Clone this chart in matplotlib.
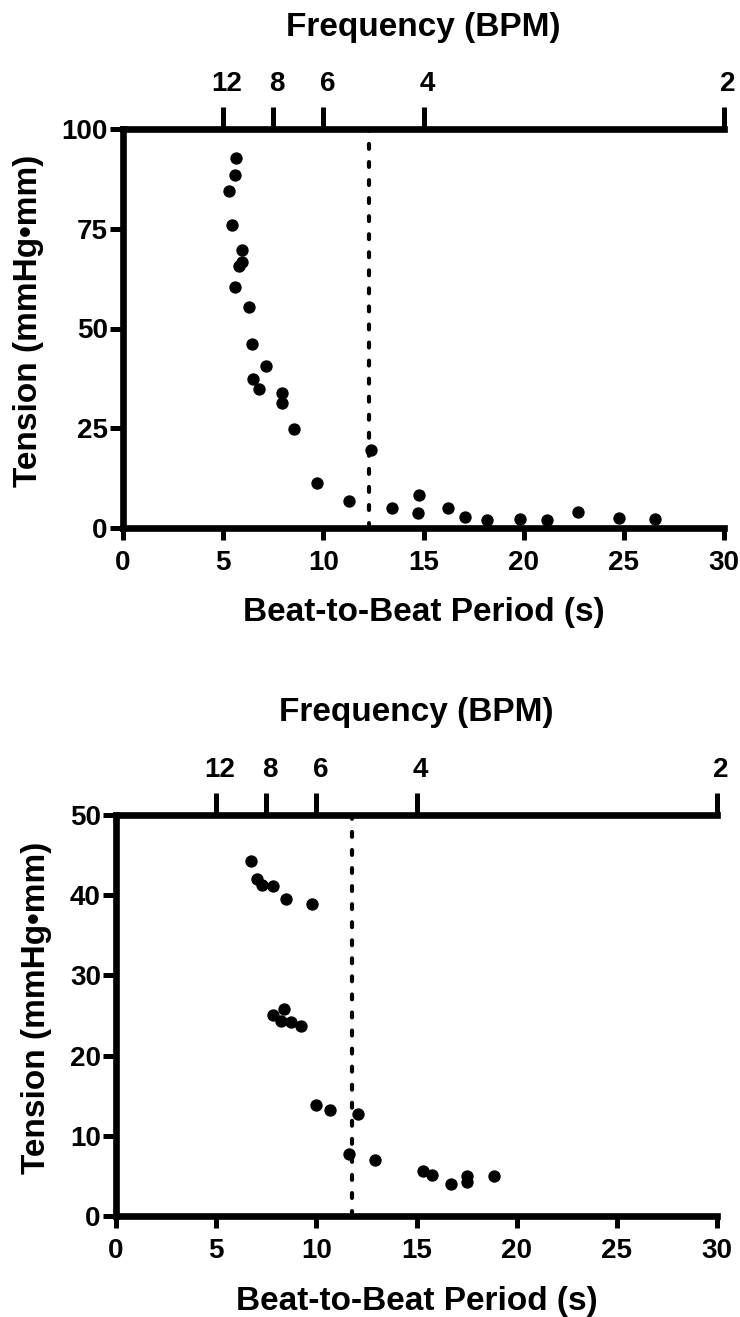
import matplotlib
matplotlib.use("Agg")
import matplotlib.pyplot as plt
import matplotlib.transforms as mtransforms

plt.rcParams['font.family'] = ['Liberation Sans', 'DejaVu Sans']
plt.rcParams['font.weight'] = 'bold'
plt.rcParams['lines.scale_dashes'] = False

# ---------------- data ----------------
# Top panel
top_period = [5.64, 5.58, 5.29, 5.46, 5.96, 5.79, 5.94, 5.59, 6.28, 6.42,
              7.14, 6.51, 6.81, 7.92, 7.94, 8.55, 12.38, 9.70, 11.30, 13.45,
              14.80, 14.73, 16.20, 17.07, 18.16, 19.82, 21.17, 22.70, 24.75, 26.56]
top_tension = [92.7, 88.4, 84.5, 76.0, 69.7, 65.6, 66.6, 60.3, 55.3, 46.2,
               40.5, 37.3, 34.8, 33.8, 31.3, 24.9, 19.5, 11.4, 6.8, 5.0,
               8.3, 3.7, 4.9, 2.75, 1.9, 2.3, 2.1, 4.0, 2.5, 2.25]
top_threshold = 12.3

# Bottom panel
bot_period = [6.74, 7.02, 7.27, 7.82, 8.50, 9.79, 8.39, 7.85, 8.24, 8.72,
              9.22, 9.98, 10.68, 12.06, 11.65, 12.94, 15.31, 15.76, 16.71,
              17.54, 17.54, 18.87]
bot_tension = [44.3, 42.0, 41.3, 41.1, 39.5, 38.9, 25.8, 25.1, 24.3, 24.2,
               23.7, 13.9, 13.2, 12.7, 7.7, 7.0, 5.6, 5.1, 3.95,
               5.0, 4.2, 5.0]
bot_threshold = 11.8

period_ticks = [0, 5, 10, 15, 20, 25, 30]
bpm_ticks = [12, 8, 6, 4, 2]
top_yticks = [0, 25, 50, 75, 100]
bot_yticks = [0, 10, 20, 30, 40, 50]

xlabel = "Beat-to-Beat Period (s)"
toplabel = "Frequency (BPM)"
ylabel = "Tension (mmHg\u2022mm)"

# ---------------- figure ----------------
fig = plt.figure(figsize=(7.40, 13.17), dpi=100)

SPINE_W = 4.8
TICK_W = 3.6
TICK_FS = 20
LABEL_FS = 24


def panel(rect, xs, ys, ymax, yticks, thr, ylab_x):
    ax = fig.add_axes(rect)
    ax.set_xlim(0, 30)
    ax.set_ylim(0, ymax)
    ax.plot(xs, ys, 'o', color='black', markersize=7.9, clip_on=False, zorder=5)
    ax.axvline(thr, color='black', lw=3.0, dashes=(3.5, 9.5),
               dash_capstyle='round', zorder=3)
    for s in ['right', 'top']:
        ax.spines[s].set_visible(False)
    for s in ['left', 'bottom']:
        ax.spines[s].set_linewidth(SPINE_W)
        ax.spines[s].set_capstyle('projecting')
    ax.set_xticks(period_ticks)
    ax.set_yticks(yticks)
    ax.tick_params(axis='x', direction='out', length=8.6, width=TICK_W,
                   pad=7, labelsize=TICK_FS)
    ax.tick_params(axis='y', direction='out', length=9.4, width=TICK_W,
                   pad=1.5, labelsize=TICK_FS)
    ax.set_xlabel(xlabel, fontsize=LABEL_FS, fontweight='bold', va='center')
    ax.xaxis.set_label_coords(0.5, -0.212)
    ax.set_ylabel(ylabel, fontsize=LABEL_FS, fontweight='bold', va='center')
    ax.yaxis.set_label_coords(ylab_x, 0.519)

    ax2 = ax.twiny()
    ax2.set_xlim(0, 30)
    ax2.set_xticks([60.0 / b for b in bpm_ticks])
    ax2.set_xticklabels([str(b) for b in bpm_ticks])
    for s in ['right', 'left', 'bottom']:
        ax2.spines[s].set_visible(False)
    ax2.spines['top'].set_linewidth(SPINE_W)
    ax2.tick_params(axis='x', direction='out', length=16, width=TICK_W,
                    pad=7, labelsize=TICK_FS)
    off = mtransforms.ScaledTranslation(4 / 100, 0, fig.dpi_scale_trans)
    for lab in ax2.get_xticklabels():
        lab.set_transform(lab.get_transform() + off)
    ax2.set_xlabel(toplabel, fontsize=LABEL_FS, fontweight='bold', va='center')
    ax2.xaxis.set_label_coords(0.5, 1.2556)
    return ax, ax2


panel([123 / 740, 1 - 528 / 1317, 601 / 740, 399 / 1317],
      top_period, top_tension, 100, top_yticks, top_threshold, -0.158)
panel([116 / 740, 1 - 1216 / 1317, 601 / 740, 401 / 1317],
      bot_period, bot_tension, 50, bot_yticks, bot_threshold, -0.133)

fig.savefig("out.png", dpi=100)
